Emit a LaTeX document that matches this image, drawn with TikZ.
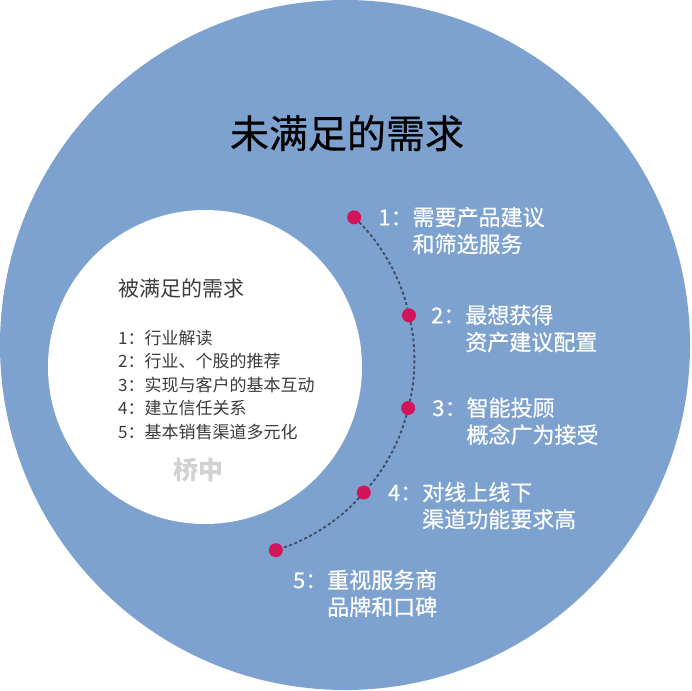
\documentclass[tikz,border=0pt]{standalone}
\usepackage{fontspec}
\setmainfont{Noto Sans CJK SC}
\newfontfamily\heavycjk[FakeBold=0.5]{Noto Sans CJK SC}
\usetikzlibrary{positioning}
\definecolor{skyblue}{HTML}{7DA2D0}
\definecolor{dotred}{HTML}{D3145A}
\definecolor{trailgray}{HTML}{3E4C5E}
\definecolor{textgray}{HTML}{3C3C3C}
\definecolor{markgray}{HTML}{D2D2D2}

\tikzset{
  reddot/.style={circle,fill=dotred,inner sep=0pt,minimum size=14pt},
  trail/.style={trailgray,line width=1.8pt,dash pattern=on 3pt off 2.5pt,shorten <=7pt,shorten >=7pt},
  need/.style={anchor=base west,inner sep=0pt,text=white,font=\heavycjk\fontsize{22}{27}\selectfont},
}

\begin{document}
\begin{tikzpicture}[x=1pt,y=1pt]
\useasboundingbox (0,0) rectangle (692,690);
\fill[white] (0,0) rectangle (692,690);
\fill[skyblue] (345,345) circle[radius=345];
\fill[white] (205,323) circle[radius=157];
\coordinate (ctr) at (214,330);

\node[anchor=base,font=\heavycjk\fontsize{39}{44}\selectfont] (title) at (347,542) {未满足的需求};

% met needs (inside the white disc)
\node[anchor=base west,inner sep=0pt,text=textgray,font=\fontsize{21}{25}\selectfont] (mettitle) at (118,393) {被满足的需求};
\node[anchor=base west,inner sep=0pt,text=textgray,font=\fontsize{17}{23.5}\selectfont] (metlist) at (118,345.5)
  {\begin{tabular}[t]{@{}l@{}}1：行业解读\\2：行业、个股的推荐\\3：实现与客户的基本互动\\4：建立信任关系\\5：基本销售渠道多元化\end{tabular}};
\node[anchor=base,text=markgray,font=\fontsize{25}{30}\selectfont\bfseries] (mark) at (198,210.5) {桥中};

% unmet needs along the arc
\foreach \a [count=\i] in {45.5,12.9,-13.9,-41.5,-72}
  \node[reddot] (d\i) at ([shift={(\a:200)}]ctr) {};
\foreach \a/\b/\i in {45.5/12.9/1,12.9/-13.9/2,-13.9/-41.5/3,-41.5/-72/4}
  \draw[trail] (d\i.center) arc[start angle=\a,end angle=\b,radius=200];

\node[need] (n1) at ([shift={(24,-8)}]d1.center) {\begin{tabular}[t]{@{}l@{}l@{}}1：&需要产品建议\\&和筛选服务\end{tabular}};
\node[need] (n2) at ([shift={(22,-8)}]d2.center) {\begin{tabular}[t]{@{}l@{}l@{}}2：&最想获得\\&资产建议配置\end{tabular}};
\node[need] (n3) at ([shift={(24,-8)}]d3.center) {\begin{tabular}[t]{@{}l@{}l@{}}3：&智能投顾\\&概念广为接受\end{tabular}};
\node[need] (n4) at ([shift={(24,-8)}]d4.center) {\begin{tabular}[t]{@{}l@{}l@{}}4：&对线上线下\\&渠道功能要求高\end{tabular}};
\node[need] (n5) at ([shift={(17,-38)}]d5.center) {\begin{tabular}[t]{@{}l@{}l@{}}5：&重视服务商\\&品牌和口碑\end{tabular}};
\end{tikzpicture}
\end{document}
